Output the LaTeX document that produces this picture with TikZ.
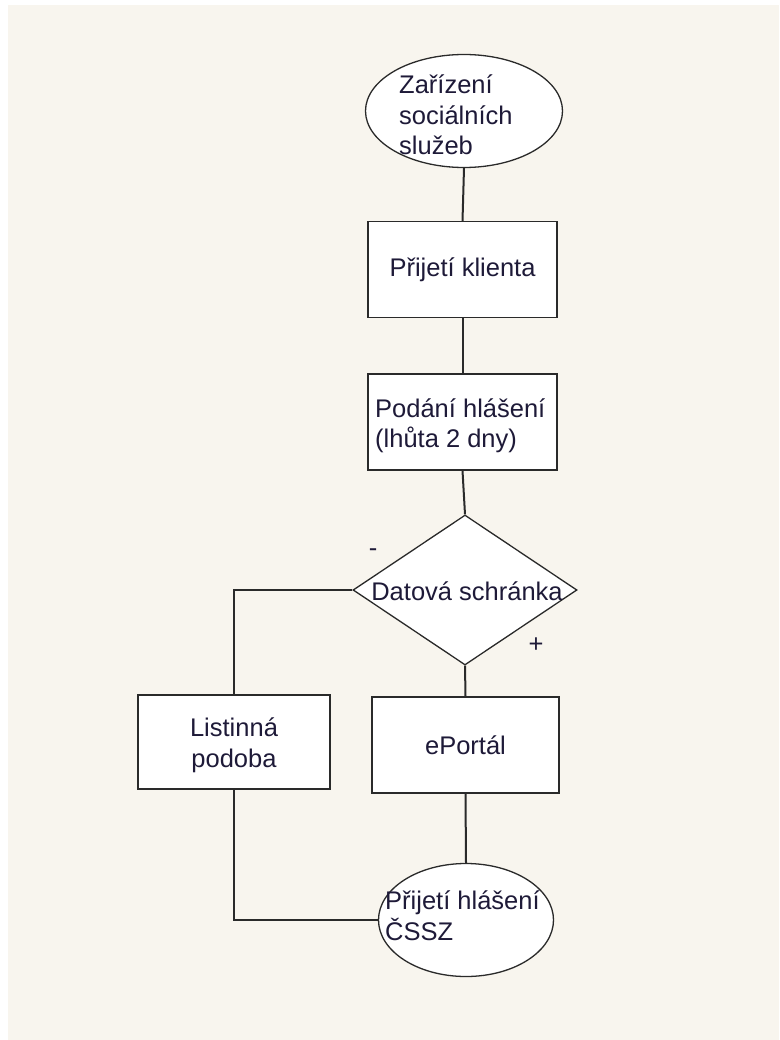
\documentclass[tikz,border=0pt]{standalone}
\usepackage{fontspec}
\setmainfont{Liberation Sans}
\usetikzlibrary{shapes.geometric}
\definecolor{bg}{HTML}{F8F5EE}
\definecolor{ink}{HTML}{1E1A38}
\definecolor{edge}{HTML}{2A2A2A}
\begin{document}
\begin{tikzpicture}[x=1pt,y=-1pt,
  every node/.style={font=\fontsize{25.5}{30.5}\selectfont, text=ink},
  shapebox/.style={draw=edge, line width=1.3pt, fill=white, inner sep=0pt},
  stepbox/.style={shapebox, rectangle, minimum width=189pt, minimum height=96pt, align=center},
  termbox/.style={shapebox, ellipse},
  link/.style={draw=edge, line width=2pt}
]
\useasboundingbox (0,0) rectangle (779,1040);
\fill[bg] (8,5) rectangle (779,1040);

% nodes
\node[termbox, minimum width=197pt, minimum height=113pt] (z) at (464,111) {};
\node[anchor=north west, align=left, inner sep=0pt] (zt) at (399,75) {Zařízení\\sociálních\\služeb};

\node[stepbox] (pk) at (462.5,269.5) {Přijetí klienta};
\node[stepbox] (ph) at (462.5,422) {};
\node[anchor=west, align=left, inner sep=0pt] (pht) at (375,426) {Podání hlášení\\(lhůta 2 dny)};

\node[shapebox, diamond, minimum width=224pt, minimum height=150pt] (ds) at (465,590) {};
\node (dst) at (467,591) {Datová schránka};
\node (minus) at (373,553) {-};
\node (plus) at (536,645) {+};

\node[stepbox, minimum width=192pt, minimum height=94pt] (lp) at (234,742) {};
\node[align=center, inner sep=0pt] (lpt) at (234,745) {Listinná\\podoba};
\node[stepbox, minimum width=187pt, minimum height=96pt] (ep) at (465.5,745) {ePortál};

\node[termbox, minimum width=175pt, minimum height=113pt] (ch) at (466,920) {};
\node[anchor=north west, align=left, inner sep=0pt] (cht) at (385,891) {Přijetí hlášení\\ČSSZ};

% connectors
\draw[link] (z.south) -- (pk.north);
\draw[link] (pk.south) -- (ph.north);
\draw[link] (ph.south) -- (ds.north);
\draw[link] (ds.west) -| (lp.north);
\draw[link] (ds.south) -- (ep.north);
\draw[link] (ep.south) -- (ch.north);
\draw[link] (lp.south) |- (ch.west);
\end{tikzpicture}
\end{document}
